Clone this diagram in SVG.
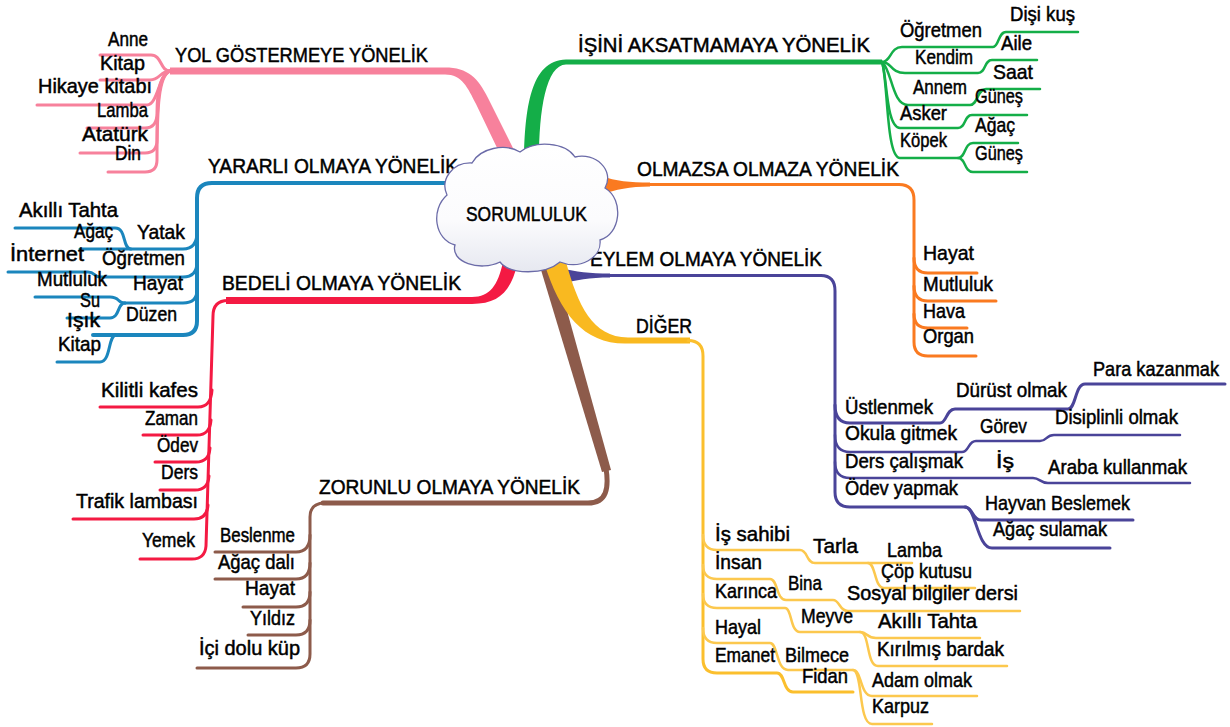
<svg xmlns="http://www.w3.org/2000/svg" width="1230" height="727" viewBox="0 0 1230 727">
<defs>
<linearGradient id="cg" x1="0" y1="0" x2="0" y2="1">
<stop offset="0" stop-color="#ffffff"/>
<stop offset="0.6" stop-color="#fbfbfd"/>
<stop offset="1" stop-color="#e6e8f0"/>
</linearGradient>
<style>
.t{font-family:"Liberation Sans",Arial,sans-serif;font-size:21px;fill:#000;stroke:#000;stroke-width:0.5px}
.c{fill:none;stroke-linecap:round;stroke-linejoin:round}
.pk{stroke:#f7819c}.pkf{fill:#f7819c}
.bl{stroke:#1b86bd}
.rd{stroke:#f41a43}.rdf{fill:#f41a43}
.br{stroke:#8d5b4b}.brf{fill:#8d5b4b}
.gr{stroke:#14ae48}.grf{fill:#14ae48}
.or{stroke:#fa7a20}.orf{fill:#fa7a20}
.pu{stroke:#4a4499}.puf{fill:#4a4499}
.ye{stroke:#fbbf2d}.yef{fill:#f9b920}
.yl{stroke:#fcc84e}
.s3{stroke-width:3}.s2{stroke-width:2.5}.s4{stroke-width:4}
</style>
</defs>
<rect width="1230" height="727" fill="#fff"/>

<g id="connectors">
<path class="pkf" d="M170,67.5 H445 C468,67.5 478,78 488,98 L514,150 L500,154 L476,104 C468,88 462,74.5 445,74.5 H170 Z"/>
<path class="c pk s3" d="M170,71 C160,71 162,55 151,55 H100"/>
<path class="c pk s3" d="M170,71 C160,71 160,80 150,80 H100"/>
<path class="c pk s3" d="M170,71 C159,73 158,105 147,105 H37"/>
<path class="c pk s3" d="M170,71 C159,75 157,95 157,113 Q157,128 145,128 H87"/>
<path class="c pk s3" d="M170,71 C159,75 157,100 157,140 Q157,153 145,153 H80"/>
<path class="c pk s3" d="M170,71 C159,75 157,105 157,160 Q157,172 145,172 H108"/>
<path class="c bl s4" d="M455,183 H212 Q197,183 197,198 V321 Q197,335 183,335 H93"/>
<path class="c bl s3" d="M197,232 Q197,249 183,249 H80"/>
<path class="c bl s3" d="M131,249 C122,249 127,228 115,228 H15"/>
<path class="c bl s3" d="M197,262 Q197,277 183,277 H100 C94,277 95,272 88,272 H8"/>
<path class="c bl s3" d="M197,290 Q197,303 183,303 H125"/>
<path class="c bl s3" d="M125,303 C117,303 120,297 110,297 H35"/>
<path class="c bl s3" d="M125,303 C117,303 120,318 110,318 H67"/>
<path class="c bl s3" d="M116,335 C108,335 111,362 100,362 H57"/>
<path class="rdf" d="M503,262 L517,265 C511,290 500,304 472,304 H226 V297 H472 C490,297 498,285 503,262 Z"/>
<path class="c rd s3" d="M228,300.5 Q213,300.5 213,316 L206,546 Q205,559 192,559 H140"/>
<path class="c rd s3" d="M212,390 Q211,407 198,407 H100"/>
<path class="c rd s3" d="M211,420 Q210,435 197,435 H143"/>
<path class="c rd s3" d="M210,448 Q209,462 196,462 H155"/>
<path class="c rd s3" d="M209,476 Q208,490 195,490 H160"/>
<path class="c rd s3" d="M208,505 Q207,519 194,519 H73"/>
<path class="brf" d="M538,260 L553,260 L611,470 L602,472 Z"/>
<path class="c br" stroke-width="5" d="M606,468 C609,488 607,503 588,503 H323"/>
<path class="c br s3" d="M325,503 Q310,503 310,517 V654 Q310,668 296,668 H197"/>
<path class="c br s3" d="M310,535 Q310,552 296,552 H215"/>
<path class="c br s3" d="M310,563 Q310,579 296,579 H215"/>
<path class="c br s3" d="M310,592 Q310,607 296,607 H243"/>
<path class="c br s3" d="M310,620 Q310,635 296,635 H248"/>
<path class="grf" d="M524,160 C525,110 530,60 566,59.5 H882 V64.5 H566 C546,65 539,110 539,160 Z"/>
<path class="c gr s2" d="M882,62 C891,62 890,47 902,47 H993 C999,47 998,32 1006,32 H1078"/>
<path class="c gr s2" d="M882,62 C892,62 890,73 905,73 H978 C986,73 984,60 992,60 H1037"/>
<path class="c gr s2" d="M882,62 C892,70 892,105 908,105 H970 C978,105 977,89 986,89 H1040"/>
<path class="c gr s2" d="M882,62 C887,75 886,128 900,128 H958 C966,128 964,115 972,115 H1027"/>
<path class="c gr s2" d="M882,62 C888,80 886,158 900,158 H958 C966,158 964,143 973,143 H1018"/>
<path class="c gr s2" d="M958,158 C966,158 964,172 973,172 H1027"/>
<path class="orf" d="M602,176 C615,181 630,182.5 650,182.5 V186.5 C630,186.5 615,190 602,194 Z"/>
<path class="c or s3" d="M645,184.5 H899 Q914,184.5 914,200 V342 Q914,356 928,356 H976"/>
<path class="c or s3" d="M914,258 Q914,273 928,273 H977"/>
<path class="c or s3" d="M914,286 Q914,301 928,301 H996"/>
<path class="c or s3" d="M914,314 Q914,328 928,328 H967"/>
<path class="puf" d="M562,268 C575,272 590,273.5 610,273.5 V277.5 C590,277.5 575,280 562,284 Z"/>
<path class="c pu s3" d="M605,275.5 H821 Q835,275.5 835,291 V492 Q835,507 850,507 H965 C973,507 972,520 981,520 H1133"/>
<path class="c pu s3" d="M965,507 C976,507 977,548 992,548 H1110"/>
<path class="c pu s3" d="M835,405 Q835,423 850,423 H940 C947,423 946,409 955,409 H1068 C1076,409 1075,384 1085,384 H1225"/>
<path class="c pu s2" d="M835,435 Q835,452 850,452 H962 C969,452 968,441 976,441 H1040 C1047,441 1046,435 1054,435 H1180"/>
<path class="c pu s2" d="M835,462 Q835,478 850,478 H1033 C1040,478 1040,483 1048,483 H1190"/>
<path class="yef" d="M544,262 L566,262 C578,305 592,337 628,337.5 H690 V343.5 H628 C585,345 560,315 544,262 Z"/>
<path class="c ye s3" d="M688,340.5 Q703,340.5 703,356 V659 Q703,673 717,673 H777 C785,673 783,692 793,692 H853"/>
<path class="c yl s2" d="M703,535 Q703,550 717,550 H800 C808,550 806,563 815,563 H912"/>
<path class="c yl s2" d="M868,563 C876,563 874,588 884,588 H975"/>
<path class="c yl s2" d="M703,565 Q703,579 717,579 H770 C778,579 776,600 786,600 H833 C840,600 839,611 848,611 H1020"/>
<path class="c yl s2" d="M703,594 Q703,608 717,608 H785 C792,608 790,632 800,632 H860 C868,632 866,638 876,638 H980"/>
<path class="c yl s2" d="M860,632 C870,632 866,666 878,666 H1007"/>
<path class="c yl s2" d="M703,628 Q703,643 717,643 H770 C778,643 776,670 788,670 H853 C862,670 860,696 872,696 H977"/>
<path class="c yl s2" d="M853,670 C863,670 858,724 872,724 H932"/>
</g>

<g id="n-yol">
<text class="t" x="175" y="62" textLength="253" lengthAdjust="spacingAndGlyphs">YOL GÖSTERMEYE YÖNELİK</text>
<text class="t" x="108" y="46" textLength="40" lengthAdjust="spacingAndGlyphs">Anne</text>
<text class="t" x="100" y="70" textLength="45" lengthAdjust="spacingAndGlyphs">Kitap</text>
<text class="t" x="38" y="93" textLength="114" lengthAdjust="spacingAndGlyphs">Hikaye kitabı</text>
<text class="t" x="97" y="117" textLength="51" lengthAdjust="spacingAndGlyphs">Lamba</text>
<text class="t" x="82" y="141" textLength="66" lengthAdjust="spacingAndGlyphs">Atatürk</text>
<text class="t" x="115" y="160" textLength="26" lengthAdjust="spacingAndGlyphs">Din</text>
</g>

<g id="n-yararli">
<text class="t" x="208" y="173" textLength="250" lengthAdjust="spacingAndGlyphs">YARARLI OLMAYA YÖNELİK</text>
<text class="t" x="19" y="217" textLength="99" lengthAdjust="spacingAndGlyphs">Akıllı Tahta</text>
<text class="t" x="74" y="238" textLength="39" lengthAdjust="spacingAndGlyphs">Ağaç</text>
<text class="t" x="137" y="239" textLength="48" lengthAdjust="spacingAndGlyphs">Yatak</text>
<text class="t" x="10" y="261" textLength="74" lengthAdjust="spacingAndGlyphs">İnternet</text>
<text class="t" x="102" y="265" textLength="83" lengthAdjust="spacingAndGlyphs">Öğretmen</text>
<text class="t" x="37" y="286" textLength="70" lengthAdjust="spacingAndGlyphs">Mutluluk</text>
<text class="t" x="133" y="290" textLength="50" lengthAdjust="spacingAndGlyphs">Hayat</text>
<text class="t" x="80" y="307" textLength="20" lengthAdjust="spacingAndGlyphs">Su</text>
<text class="t" x="67" y="327" textLength="33" lengthAdjust="spacingAndGlyphs">Işık</text>
<text class="t" x="126" y="321" textLength="51" lengthAdjust="spacingAndGlyphs">Düzen</text>
<text class="t" x="58" y="351" textLength="43" lengthAdjust="spacingAndGlyphs">Kitap</text>
</g>

<g id="n-bedeli">
<text class="t" x="222" y="290" textLength="239" lengthAdjust="spacingAndGlyphs">BEDELİ OLMAYA YÖNELİK</text>
<text class="t" x="101" y="397" textLength="97" lengthAdjust="spacingAndGlyphs">Kilitli kafes</text>
<text class="t" x="145" y="425" textLength="53" lengthAdjust="spacingAndGlyphs">Zaman</text>
<text class="t" x="157" y="452" textLength="41" lengthAdjust="spacingAndGlyphs">Ödev</text>
<text class="t" x="161" y="479" textLength="37" lengthAdjust="spacingAndGlyphs">Ders</text>
<text class="t" x="76" y="508" textLength="122" lengthAdjust="spacingAndGlyphs">Trafik lambası</text>
<text class="t" x="142" y="547" textLength="53" lengthAdjust="spacingAndGlyphs">Yemek</text>
</g>

<g id="n-zorunlu">
<text class="t" x="319" y="494" textLength="261" lengthAdjust="spacingAndGlyphs">ZORUNLU OLMAYA YÖNELİK</text>
<text class="t" x="220" y="542" textLength="75" lengthAdjust="spacingAndGlyphs">Beslenme</text>
<text class="t" x="218" y="569" textLength="77" lengthAdjust="spacingAndGlyphs">Ağaç dalı</text>
<text class="t" x="245" y="595" textLength="50" lengthAdjust="spacingAndGlyphs">Hayat</text>
<text class="t" x="250" y="625" textLength="45" lengthAdjust="spacingAndGlyphs">Yıldız</text>
<text class="t" x="199" y="655" textLength="101" lengthAdjust="spacingAndGlyphs">İçi dolu küp</text>
</g>

<g id="n-isini">
<text class="t" x="578" y="52" textLength="292" lengthAdjust="spacingAndGlyphs">İŞİNİ AKSATMAMAYA YÖNELİK</text>
<text class="t" x="900" y="37" textLength="82" lengthAdjust="spacingAndGlyphs">Öğretmen</text>
<text class="t" x="1010" y="21" textLength="65" lengthAdjust="spacingAndGlyphs">Dişi kuş</text>
<text class="t" x="1001" y="50" textLength="31" lengthAdjust="spacingAndGlyphs">Aile</text>
<text class="t" x="915" y="64" textLength="58" lengthAdjust="spacingAndGlyphs">Kendim</text>
<text class="t" x="993" y="79" textLength="40" lengthAdjust="spacingAndGlyphs">Saat</text>
<text class="t" x="913" y="94" textLength="54" lengthAdjust="spacingAndGlyphs">Annem</text>
<text class="t" x="975" y="103" textLength="48" lengthAdjust="spacingAndGlyphs">Güneş</text>
<text class="t" x="900" y="120" textLength="47" lengthAdjust="spacingAndGlyphs">Asker</text>
<text class="t" x="975" y="132" textLength="40" lengthAdjust="spacingAndGlyphs">Ağaç</text>
<text class="t" x="900" y="147" textLength="47" lengthAdjust="spacingAndGlyphs">Köpek</text>
<text class="t" x="975" y="160" textLength="48" lengthAdjust="spacingAndGlyphs">Güneş</text>
</g>

<g id="n-olmazsa">
<text class="t" x="637" y="176" textLength="262" lengthAdjust="spacingAndGlyphs">OLMAZSA OLMAZA YÖNELİK</text>
<text class="t" x="923" y="260" textLength="51" lengthAdjust="spacingAndGlyphs">Hayat</text>
<text class="t" x="923" y="291" textLength="70" lengthAdjust="spacingAndGlyphs">Mutluluk</text>
<text class="t" x="923" y="318" textLength="42" lengthAdjust="spacingAndGlyphs">Hava</text>
<text class="t" x="923" y="343" textLength="51" lengthAdjust="spacingAndGlyphs">Organ</text>
</g>

<g id="n-eylem">
<text class="t" x="590" y="266" textLength="232" lengthAdjust="spacingAndGlyphs">EYLEM OLMAYA YÖNELİK</text>
<text class="t" x="845" y="414" textLength="88" lengthAdjust="spacingAndGlyphs">Üstlenmek</text>
<text class="t" x="956" y="397" textLength="111" lengthAdjust="spacingAndGlyphs">Dürüst olmak</text>
<text class="t" x="1093" y="376" textLength="126" lengthAdjust="spacingAndGlyphs">Para kazanmak</text>
<text class="t" x="845" y="440" textLength="112" lengthAdjust="spacingAndGlyphs">Okula gitmek</text>
<text class="t" x="980" y="433" textLength="47" lengthAdjust="spacingAndGlyphs">Görev</text>
<text class="t" x="1055" y="424" textLength="123" lengthAdjust="spacingAndGlyphs">Disiplinli olmak</text>
<text class="t" x="845" y="468" textLength="118" lengthAdjust="spacingAndGlyphs">Ders çalışmak</text>
<text class="t" x="996" y="468" textLength="18" lengthAdjust="spacingAndGlyphs">İş</text>
<text class="t" x="1048" y="474" textLength="139" lengthAdjust="spacingAndGlyphs">Araba kullanmak</text>
<text class="t" x="845" y="495" textLength="113" lengthAdjust="spacingAndGlyphs">Ödev yapmak</text>
<text class="t" x="985" y="510" textLength="145" lengthAdjust="spacingAndGlyphs">Hayvan Beslemek</text>
<text class="t" x="993" y="536" textLength="114" lengthAdjust="spacingAndGlyphs">Ağaç sulamak</text>
</g>

<g id="n-diger">
<text class="t" x="636" y="333" textLength="56" lengthAdjust="spacingAndGlyphs">DİĞER</text>
<text class="t" x="715" y="541" textLength="75" lengthAdjust="spacingAndGlyphs">İş sahibi</text>
<text class="t" x="813" y="553" textLength="45" lengthAdjust="spacingAndGlyphs">Tarla</text>
<text class="t" x="887" y="557" textLength="55" lengthAdjust="spacingAndGlyphs">Lamba</text>
<text class="t" x="715" y="569" textLength="47" lengthAdjust="spacingAndGlyphs">İnsan</text>
<text class="t" x="881" y="578" textLength="91" lengthAdjust="spacingAndGlyphs">Çöp kutusu</text>
<text class="t" x="788" y="590" textLength="34" lengthAdjust="spacingAndGlyphs">Bina</text>
<text class="t" x="715" y="598" textLength="62" lengthAdjust="spacingAndGlyphs">Karınca</text>
<text class="t" x="847" y="600" textLength="171" lengthAdjust="spacingAndGlyphs">Sosyal bilgiler dersi</text>
<text class="t" x="801" y="623" textLength="52" lengthAdjust="spacingAndGlyphs">Meyve</text>
<text class="t" x="878" y="628" textLength="99" lengthAdjust="spacingAndGlyphs">Akıllı Tahta</text>
<text class="t" x="715" y="634" textLength="46" lengthAdjust="spacingAndGlyphs">Hayal</text>
<text class="t" x="877" y="656" textLength="127" lengthAdjust="spacingAndGlyphs">Kırılmış bardak</text>
<text class="t" x="715" y="662" textLength="60" lengthAdjust="spacingAndGlyphs">Emanet</text>
<text class="t" x="785" y="662" textLength="64" lengthAdjust="spacingAndGlyphs">Bilmece</text>
<text class="t" x="802" y="683" textLength="46" lengthAdjust="spacingAndGlyphs">Fidan</text>
<text class="t" x="872" y="687" textLength="100" lengthAdjust="spacingAndGlyphs">Adam olmak</text>
<text class="t" x="872" y="713" textLength="57" lengthAdjust="spacingAndGlyphs">Karpuz</text>
</g>

<g id="n-center">
<path d="M447,195 C440,180 452,162 472,163 C480,148 505,143 520,152 C535,140 565,142 575,157 C595,152 615,170 605,188 C625,200 620,235 600,240 C602,258 580,270 560,262 C545,275 510,275 500,262 C480,272 450,262 455,245 C435,240 430,210 447,195 Z" fill="url(#cg)" stroke="#6b6ba8" stroke-width="1.3"/>
<text class="t" x="466" y="221" font-size="22" textLength="121" lengthAdjust="spacingAndGlyphs">SORUMLULUK</text>
</g>
</svg>
